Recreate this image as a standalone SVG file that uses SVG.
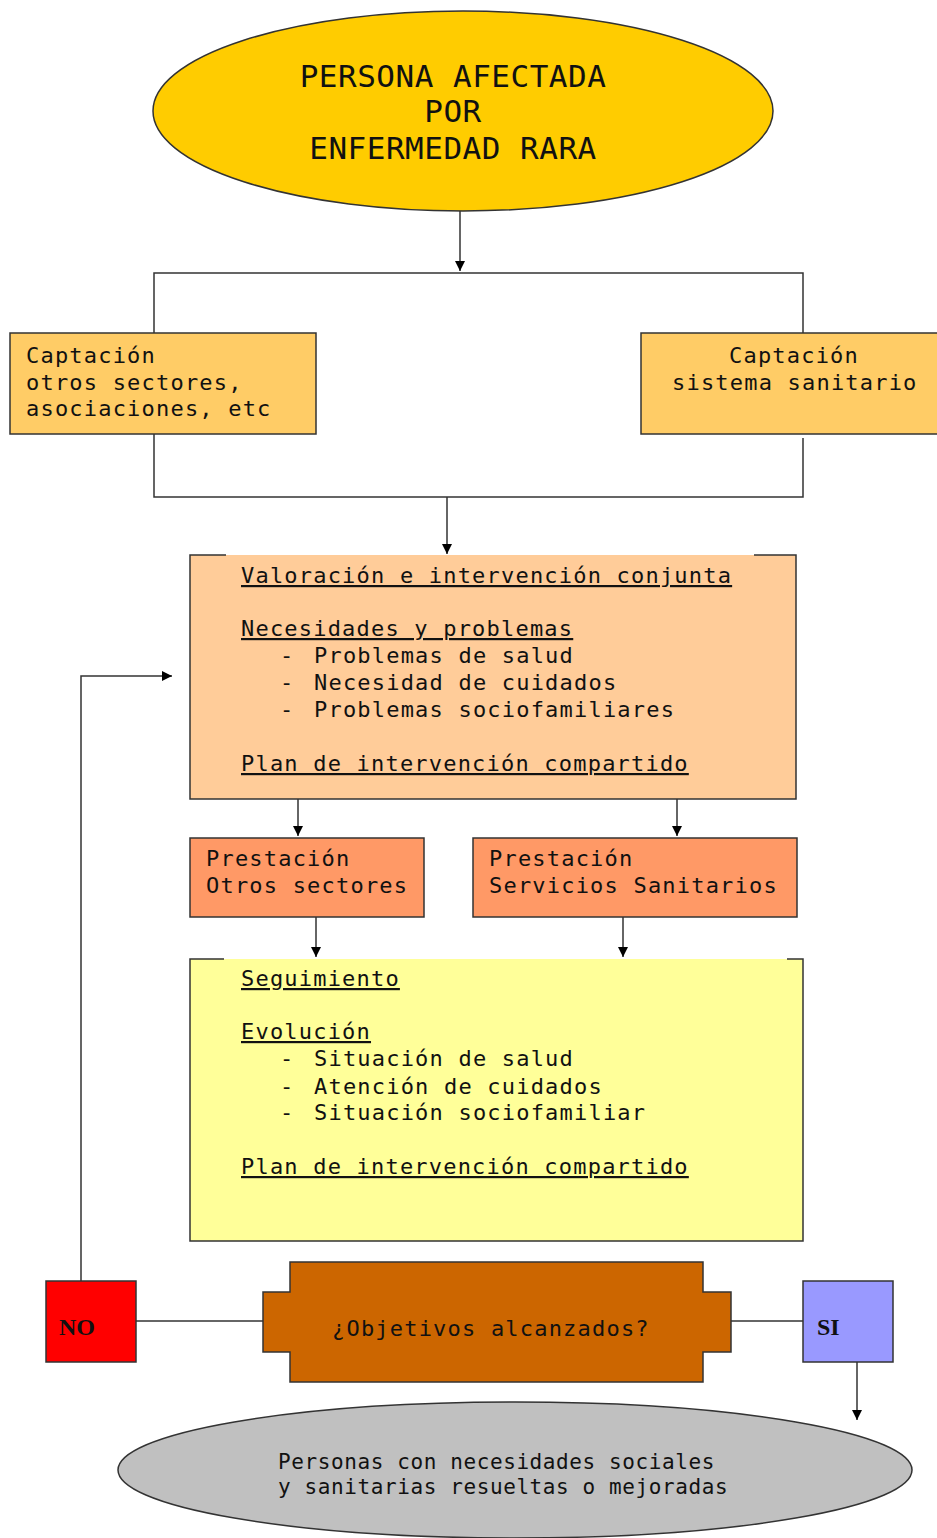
<svg xmlns="http://www.w3.org/2000/svg" width="937" height="1538" viewBox="0 0 937 1538">
<style>
.t{font-family:"DejaVu Sans Mono","Liberation Mono",monospace;font-size:22px;letter-spacing:1.2px;fill:#111}
.u{text-decoration:underline}
.big{font-family:"DejaVu Sans Mono","Liberation Mono",monospace;font-size:31px;letter-spacing:0.5px;fill:#111}
.yn{font-family:"Liberation Serif",serif;font-size:24px;font-weight:bold;fill:#111}
.ln{stroke:#333;stroke-width:1.5;fill:none}
.bx{stroke:#333;stroke-width:1.5}
</style>
<defs>
<marker id="ah" viewBox="0 0 10 10" refX="10" refY="5" markerWidth="10" markerHeight="11" markerUnits="userSpaceOnUse" orient="auto">
<path d="M0,0 L10,5 L0,10 z" fill="#000"/>
</marker>
</defs>
<g id="connectors">
<line class="ln" x1="460" y1="211" x2="460" y2="271" marker-end="url(#ah)"/>
<polyline class="ln" points="154,333 154,273 803,273 803,333"/>
<polyline class="ln" points="154,434 154,497 803,497 803,438"/>
<line class="ln" x1="447" y1="497" x2="447" y2="554" marker-end="url(#ah)"/>
<line class="ln" x1="298" y1="799" x2="298" y2="836" marker-end="url(#ah)"/>
<line class="ln" x1="677" y1="799" x2="677" y2="836" marker-end="url(#ah)"/>
<line class="ln" x1="316" y1="917" x2="316" y2="957" marker-end="url(#ah)"/>
<line class="ln" x1="623" y1="917" x2="623" y2="957" marker-end="url(#ah)"/>
<line class="ln" x1="136" y1="1321" x2="263" y2="1321"/>
<line class="ln" x1="731" y1="1321" x2="803" y2="1321"/>
<polyline class="ln" points="81,1281 81,676 172,676" marker-end="url(#ah)"/>
<line class="ln" x1="857" y1="1362" x2="857" y2="1420" marker-end="url(#ah)"/>
</g>
<g id="persona">
<ellipse cx="463" cy="111" rx="310" ry="100" fill="#FFCC00" stroke="#333" stroke-width="1.5"/>
<text class="big" x="453" y="87" text-anchor="middle">PERSONA AFECTADA</text>
<text class="big" x="453" y="122" text-anchor="middle">POR</text>
<text class="big" x="453" y="159" text-anchor="middle">ENFERMEDAD RARA</text>
</g>
<g id="captacion-otros">
<rect class="bx" x="10" y="333" width="306" height="101" fill="#FFCC66"/>
<text class="t" x="26" y="363">Captación</text>
<text class="t" x="26" y="390">otros sectores,</text>
<text class="t" x="26" y="416">asociaciones, etc</text>
</g>
<g id="captacion-sanitario">
<rect class="bx" x="641" y="333" width="300" height="101" fill="#FFCC66"/>
<text class="t" x="729" y="363">Captación</text>
<text class="t" x="672" y="390">sistema sanitario</text>
</g>
<g id="valoracion">
<rect x="190" y="555" width="606" height="244" fill="#FFCC99"/>
<polyline class="ln" points="226,555 190,555 190,799 796,799 796,555 754,555"/>
<text class="t u" x="241" y="583">Valoración e intervención conjunta</text>
<text class="t u" x="241" y="636">Necesidades y problemas</text>
<text class="t" x="280" y="663">-</text><text class="t" x="314" y="663">Problemas de salud</text>
<text class="t" x="280" y="690">-</text><text class="t" x="314" y="690">Necesidad de cuidados</text>
<text class="t" x="280" y="717">-</text><text class="t" x="314" y="717">Problemas sociofamiliares</text>
<text class="t u" x="241" y="771">Plan de intervención compartido</text>
</g>
<g id="prestacion-otros">
<rect class="bx" x="190" y="838" width="234" height="79" fill="#FF9966"/>
<text class="t" x="206" y="866">Prestación</text>
<text class="t" x="206" y="893">Otros sectores</text>
</g>
<g id="prestacion-sanitarios">
<rect class="bx" x="473" y="838" width="324" height="79" fill="#FF9966"/>
<text class="t" x="489" y="866">Prestación</text>
<text class="t" x="489" y="893">Servicios Sanitarios</text>
</g>
<g id="seguimiento">
<rect x="190" y="959" width="613" height="282" fill="#FFFF99"/>
<polyline class="ln" points="224,959 190,959 190,1241 803,1241 803,959 787,959"/>
<text class="t u" x="241" y="986">Seguimiento</text>
<text class="t u" x="241" y="1039">Evolución</text>
<text class="t" x="280" y="1066">-</text><text class="t" x="314" y="1066">Situación de salud</text>
<text class="t" x="280" y="1094">-</text><text class="t" x="314" y="1094">Atención de cuidados</text>
<text class="t" x="280" y="1120">-</text><text class="t" x="314" y="1120">Situación sociofamiliar</text>
<text class="t u" x="241" y="1174">Plan de intervención compartido</text>
</g>
<g id="no">
<rect class="bx" x="46" y="1281" width="90" height="81" fill="#FF0000"/>
<text class="yn" x="59" y="1335">NO</text>
</g>
<g id="objetivos">
<path class="bx" d="M290,1262 H703 V1292 H731 V1352 H703 V1382 H290 V1352 H263 V1292 H290 Z" fill="#CC6600"/>
<text class="t" x="332" y="1336">¿Objetivos alcanzados?</text>
</g>
<g id="si">
<rect class="bx" x="803" y="1281" width="90" height="81" fill="#9999FF"/>
<text class="yn" x="817" y="1335">SI</text>
</g>
<g id="resultado">
<ellipse cx="515" cy="1470" rx="397" ry="68" fill="#C0C0C0" stroke="#333" stroke-width="1.5"/>
<text class="t" x="278" y="1469" style="font-size:21px;letter-spacing:0.6px">Personas con necesidades sociales</text>
<text class="t" x="278" y="1494" style="font-size:21px;letter-spacing:0.6px">y sanitarias resueltas o mejoradas</text>
</g>
</svg>
